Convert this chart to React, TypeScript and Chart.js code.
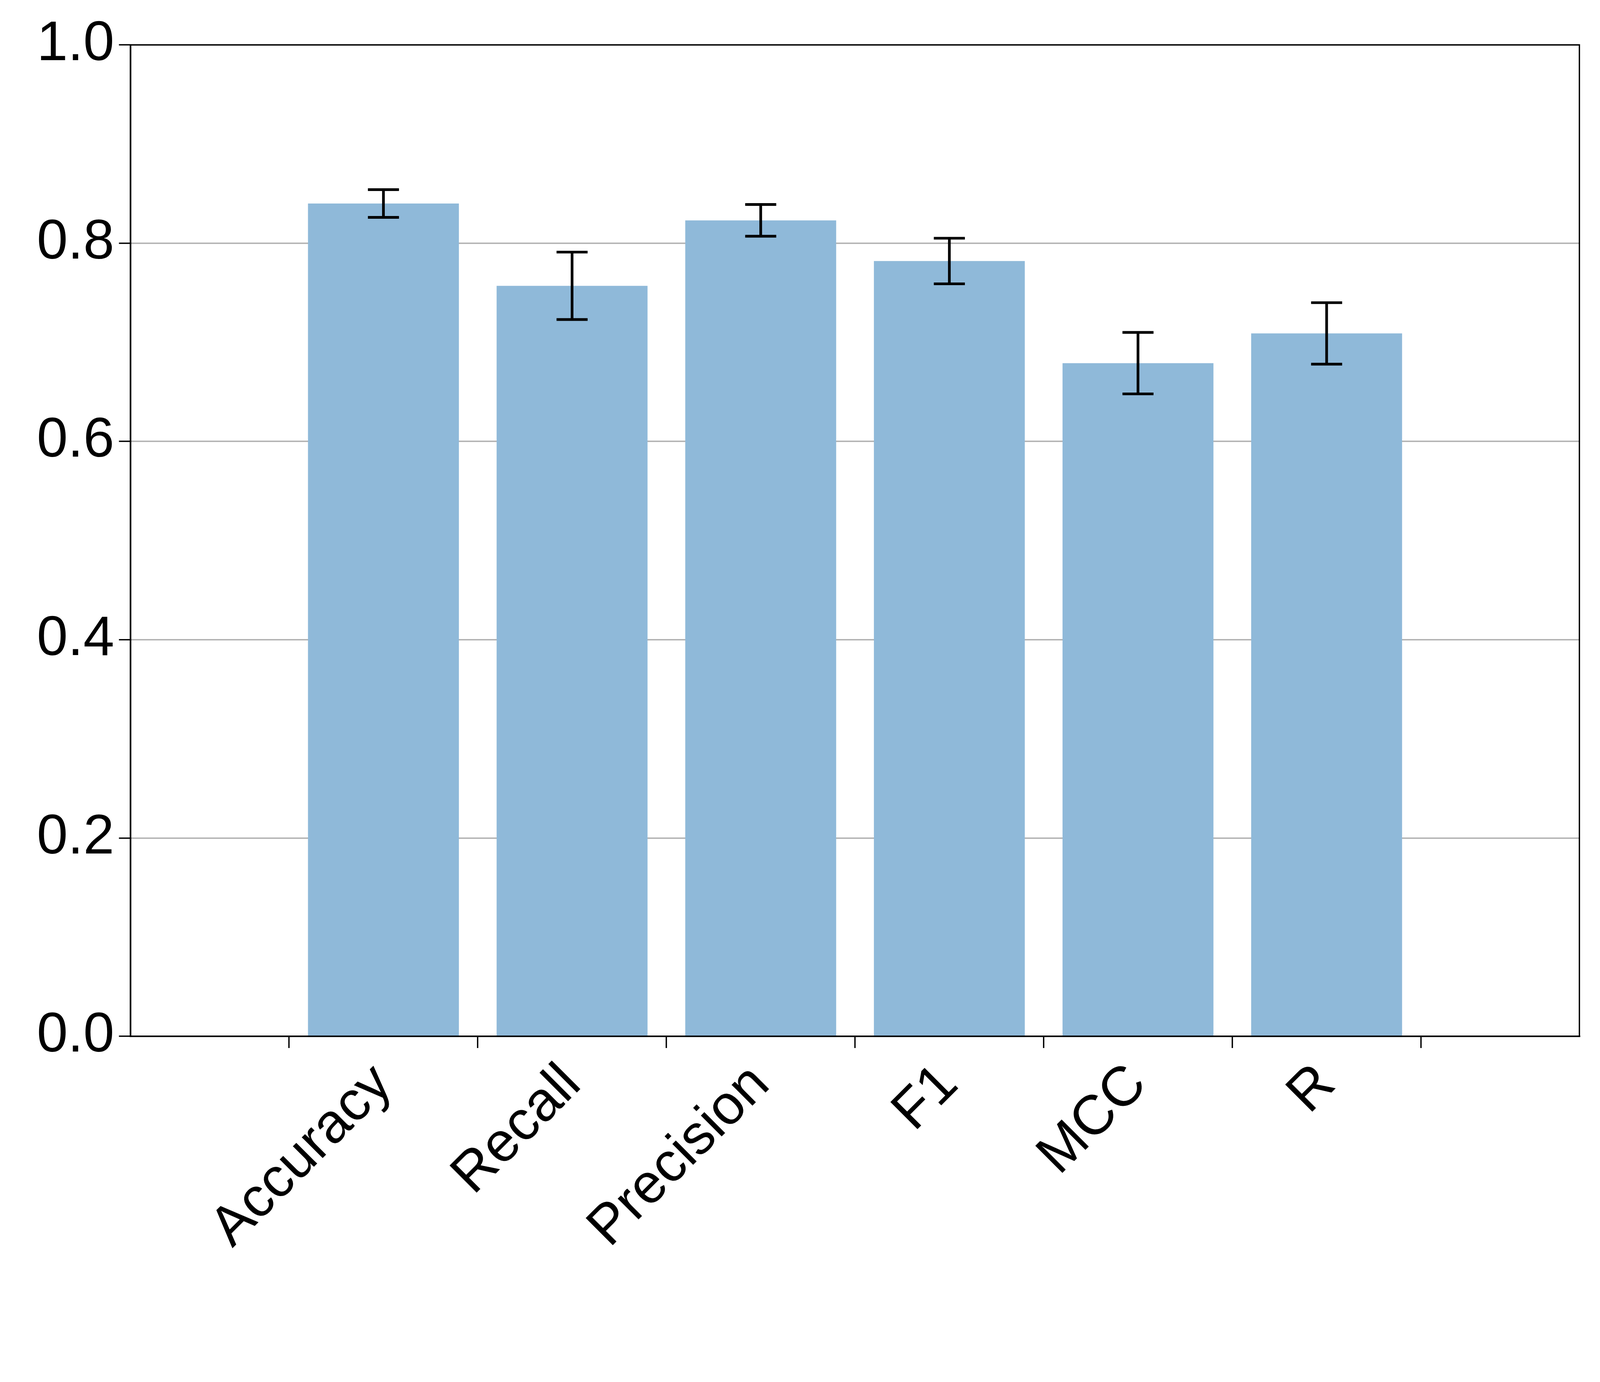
import React, { useEffect, useRef } from "react";
import { Chart, registerables } from "chart.js";
Chart.register(...registerables);

const categories = ["Accuracy", "Recall", "Precision", "F1", "MCC", "R"];
const values = [0.84, 0.757, 0.823, 0.782, 0.679, 0.709];
const errors = [0.014, 0.034, 0.016, 0.023, 0.031, 0.031];
const yTicks = [0, 0.2, 0.4, 0.6, 0.8, 1.0];

const W = 4739, H = 3538;
const sc = (c: any) => (c.chart ? c.chart.width : c.width) / W;

const errPlugin = {
  id: "errbars",
  afterDatasetsDraw(chart: any) {
    const { ctx, scales, chartArea } = chart;
    const k = chart.width / W;
    const x = scales.x, y = scales.y;
    ctx.save();
    ctx.strokeStyle = "#000";
    ctx.lineWidth = 8 * k;
    values.forEach((v, i) => {
      const px = x.getPixelForValue(i);
      const lo = y.getPixelForValue(v - errors[i]);
      const hi = y.getPixelForValue(v + errors[i]);
      ctx.beginPath();
      ctx.moveTo(px, lo); ctx.lineTo(px, hi);
      ctx.moveTo(px - 46 * k, lo); ctx.lineTo(px + 46 * k, lo);
      ctx.moveTo(px - 46 * k, hi); ctx.lineTo(px + 46 * k, hi);
      ctx.stroke();
    });
    ctx.lineWidth = 4 * k;
    ctx.strokeRect(chartArea.left, chartArea.top, chartArea.right - chartArea.left, chartArea.bottom - chartArea.top);
    ctx.restore();
  },
};

export default function App() {
  const ref = useRef<HTMLCanvasElement>(null);
  useEffect(() => {
    const chart = new Chart(ref.current!, {
      type: "bar",
      data: {
        datasets: [{
          data: values.map((v, i) => ({ x: i, y: v })),
          backgroundColor: "#8fb9d9",
          barPercentage: 0.8,
          categoryPercentage: 1,
        }],
      },
      options: {
        animation: false,
        responsive: true,
        maintainAspectRatio: false,
        layout: {
          padding: (c: any) => ({ top: 133 * sc(c), right: 61 * sc(c), left: 0, bottom: 0 }),
        },
        plugins: { legend: { display: false }, tooltip: { enabled: false } },
        scales: {
          x: {
            type: "linear",
            min: -0.7,
            max: 5.7,
            afterBuildTicks: (s: any) => { s.ticks = categories.map((_, i) => ({ value: i })); },
            afterFit: (s: any) => { s.height = s.chart.height * (H - 2653) / H; },
            grid: {
              display: true, drawOnChartArea: false, color: "#000",
              lineWidth: (c: any) => 4 * sc(c), tickLength: 30,
            },
            border: { color: "#000", width: 4 },
            ticks: {
              callback: (v: any) => categories[v as number] ?? "",
              maxRotation: 45, minRotation: 45,
              color: "#000", padding: 10,
              font: (c: any) => ({ family: "Liberation Sans, Arial", size: 165 * sc(c) }),
            },
          },
          y: {
            min: 0, max: 1,
            afterBuildTicks: (s: any) => { s.ticks = yTicks.map((v) => ({ value: v })); },
            afterFit: (s: any) => { s.width = s.chart.width * 387 / W; },
            grid: { color: "#b0b0b0", lineWidth: (c: any) => 4 * sc(c), tickLength: 30, tickColor: "#000" },
            border: { color: "#000", width: 4 },
            ticks: {
              callback: (v: any) => Number(v).toFixed(1),
              color: "#000", padding: 12,
              font: (c: any) => ({ family: "Liberation Sans, Arial", size: 165 * sc(c) }),
            },
          },
        },
      },
      plugins: [errPlugin],
    } as any);
    return () => chart.destroy();
  }, []);
  return (
    <div style={{ position: "fixed", left: 0, top: 0, width: "100vw", height: "100vh", background: "#fff" }}>
      <canvas ref={ref} />
    </div>
  );
}
